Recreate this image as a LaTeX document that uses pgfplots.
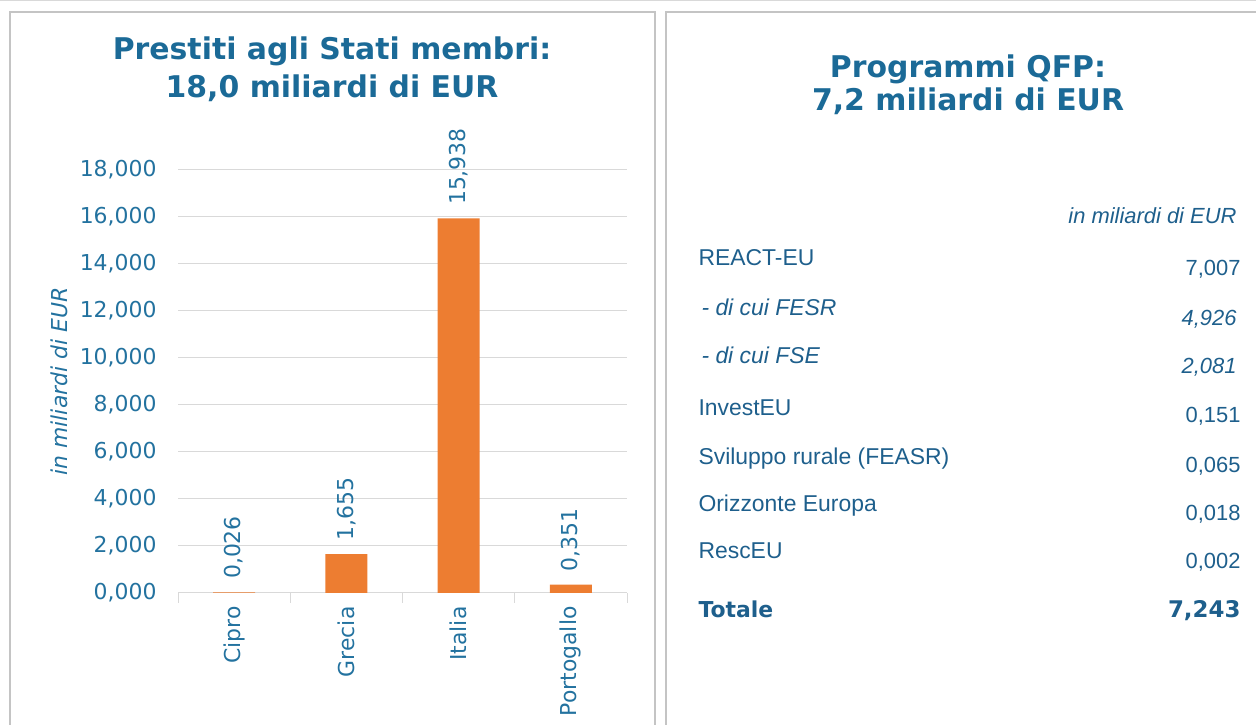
\documentclass[border=0pt]{standalone}
\usepackage{pgfplots}
\pgfplotsset{compat=1.18}
\usepackage{fontspec}
\setmainfont{DejaVu Sans}
\newfontfamily\tabfont{Liberation Sans}
\definecolor{ttl}{HTML}{1B6A97}
\definecolor{tck}{HTML}{23729F}
\definecolor{tab}{HTML}{1E5F8C}
\definecolor{bar}{HTML}{ED7D31}
\definecolor{frame}{HTML}{C4C4C4}
\definecolor{gridc}{HTML}{D9D9D9}
\begin{document}
\begin{tikzpicture}[x=1bp, y=1bp]
\useasboundingbox (0,0) rectangle (1256,725);
% frames
\draw[gridc, line width=1bp] (0,724) -- (1256,724);
\draw[frame, line width=2bp] (10,-2) -- (10,713) -- (655,713) -- (655,-2);
\draw[frame, line width=2bp] (666,-2) -- (666,713) -- (1258,713);
% left title
\node[ttl, font=\fontsize{30}{38}\selectfont\bfseries, align=center] at (332,656) {Prestiti agli Stati membri:\\18,0 miliardi di EUR};
\begin{axis}[
  at={(178bp,132bp)}, anchor=south west,
  scale only axis, width=449bp, height=423bp,
  xmin=-0.5, xmax=3.5, ymin=0, ymax=18,
  ybar, bar width=42bp,
  xtick={-0.5,0.5,1.5,2.5,3.5}, xticklabels={},
  xtick align=outside, major tick length=10bp,
  xtick style={draw=gridc, line width=1bp},
  extra x ticks={0,1,2,3}, extra x tick labels={Cipro,Grecia,Italia,Portogallo},
  extra x tick style={major tick length=0pt, grid=none,
    tick label style={rotate=90, anchor=east, font=\fontsize{22}{24}\selectfont, color=tck, xshift=-10bp}},
  ytick={0,2,...,18},
  y tick label style={font=\fontsize{22}{24}\selectfont, color=tck, xshift=-18bp},
  /pgf/number format/.cd, fixed, fixed zerofill, precision=3, use comma, 1000 sep={}, assume math mode=true,
  /pgfplots/.cd,
  ytick style={draw=none},
  ymajorgrids, grid style={gridc, line width=1bp},
  axis x line*=bottom, axis y line*=left,
  axis line style={gridc, line width=1bp},
  y axis line style={draw=none},
  ylabel={in miliardi di EUR},
  ylabel style={font=\fontsize{22}{24}\selectfont\itshape, color=tck, yshift=5bp},
  nodes near coords,
  every node near coord/.append style={rotate=90, anchor=west, font=\fontsize{22}{24}\selectfont, color=tck, xshift=10bp,
    /pgf/number format/.cd, fixed, fixed zerofill, precision=3, use comma, assume math mode=true},
  clip=false,
]
\addplot[fill=bar, draw=none] coordinates {(0,0.026) (1,1.655) (2,15.938) (3,0.351)};
\end{axis}
% right panel
\node[ttl, font=\fontsize{30}{33}\selectfont\bfseries, align=center] at (968,640) {Programmi QFP:\\7,2 miliardi di EUR};
\begin{scope}[tab, font=\tabfont\fontsize{23}{25}\selectfont]
\node[anchor=base east, font=\tabfont\fontsize{22}{24}\selectfont\itshape] at (1240,501) {in miliardi di EUR};
\node[anchor=base west] at (695,459) {REACT-EU};
\node[anchor=base east, font=\tabfont\fontsize{22}{24}\selectfont] at (1244,449) {7,007};
\node[anchor=base west, font=\tabfont\fontsize{23}{25}\selectfont\itshape] at (698,409) {- di cui FESR};
\node[anchor=base east, font=\tabfont\fontsize{22}{24}\selectfont\itshape] at (1240,399) {4,926};
\node[anchor=base west, font=\tabfont\fontsize{23}{25}\selectfont\itshape] at (698,361) {- di cui FSE};
\node[anchor=base east, font=\tabfont\fontsize{22}{24}\selectfont\itshape] at (1240,351) {2,081};
\node[anchor=base west] at (695,309) {InvestEU};
\node[anchor=base east, font=\tabfont\fontsize{22}{24}\selectfont] at (1244,302) {0,151};
\node[anchor=base west] at (695,260) {Sviluppo rurale (FEASR)};
\node[anchor=base east, font=\tabfont\fontsize{22}{24}\selectfont] at (1244,252) {0,065};
\node[anchor=base west] at (695,213) {Orizzonte Europa};
\node[anchor=base east, font=\tabfont\fontsize{22}{24}\selectfont] at (1244,204) {0,018};
\node[anchor=base west] at (695,166) {RescEU};
\node[anchor=base east, font=\tabfont\fontsize{22}{24}\selectfont] at (1244,156) {0,002};
\node[anchor=base west, font=\fontsize{22}{24}\selectfont\bfseries] at (695,107) {Totale};
\node[anchor=base east, font=\fontsize{23}{25}\selectfont\bfseries] at (1244,107) {7,243};
\end{scope}
\end{tikzpicture}
\end{document}
